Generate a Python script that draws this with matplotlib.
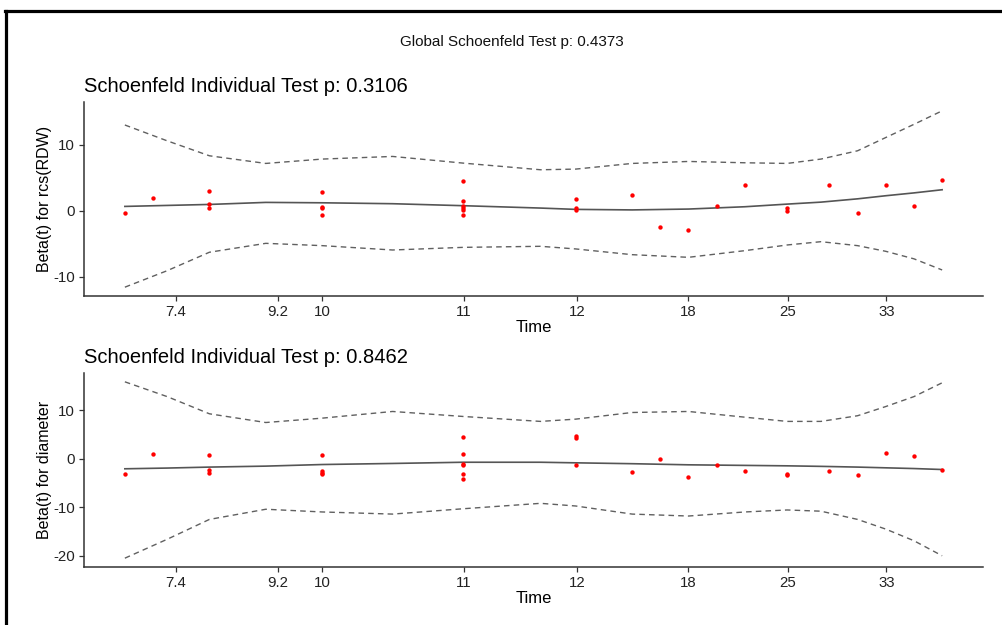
import matplotlib
matplotlib.use("Agg")
import matplotlib.pyplot as plt
from matplotlib.lines import Line2D

plt.rcParams['font.family'] = ['Liberation Sans', 'DejaVu Sans']
plt.rcParams['axes.unicode_minus'] = False

# ---- data (x in transformed-time units) ----
tick_pos = [1.82, 5.43, 7.0, 12.03, 16.05, 19.99, 23.52, 27.02]
tick_labels = ['7.4', '9.2', '10', '11', '12', '18', '25', '33']

pts_x = [0, 1, 3, 3, 3, 7, 7, 7, 7, 12, 12, 12, 12, 12, 12, 16, 16, 16,
         18, 19, 20, 21, 22, 23.5, 23.5, 25, 26, 27, 28, 29]
rdw_resid = [-0.35, 1.87, 3.03, 1.01, 0.35, 2.78, 0.5, 0.35, -0.6,
             4.44, 1.41, 0.76, 0.4, 0.1, -0.6, 1.77, 0.45, 0.15,
             2.42, -2.53, -2.93, 0.66, 3.89, 0.4, -0.05, 3.89, -0.35, 3.89, 0.71, 4.6]
diam_resid = [-3.08, 1.09, 0.75, -2.33, -3.02, 0.75, -2.6, -2.88, -3.22,
              4.44, 0.95, -1.05, -1.2, -3.22, -4.1, 4.64, 4.23, -1.31,
              -2.75, 0.06, -3.77, -1.17, -2.54, -3.22, -3.3, -2.54, -3.43, 1.16, 0.61, -2.4]

fit_x = [0, 1.5, 3, 5, 7, 9.5, 12, 14.75, 16, 18, 20, 22, 23.5, 24.7, 26, 27, 28, 29]
rdw_fit = [0.65, 0.8, 0.95, 1.26, 1.2, 1.06, 0.76, 0.4, 0.2, 0.12, 0.25, 0.6, 1.0, 1.3, 1.8, 2.27, 2.7, 3.18]
rdw_upper = [13.0, 10.6, 8.33, 7.17, 7.83, 8.23, 7.22, 6.21, 6.31, 7.17, 7.47, 7.27, 7.17, 7.83, 9.09, 11.1, 13.1, 15.15]
rdw_lower = [-11.6, -9.1, -6.3, -4.95, -5.3, -5.96, -5.56, -5.4, -5.8, -6.67, -7.07, -6.06, -5.2, -4.7, -5.3, -6.16, -7.3, -8.99]
diam_fit = [-2.05, -1.9, -1.7, -1.5, -1.17, -0.95, -0.7, -0.7, -0.82, -1.0, -1.23, -1.35, -1.44, -1.55, -1.7, -1.85, -2.0, -2.2]
diam_upper = [15.9, 12.85, 9.3, 7.5, 8.4, 9.78, 8.75, 7.73, 8.2, 9.57, 9.78, 8.6, 7.73, 7.73, 8.9, 10.8, 12.85, 15.7]
diam_lower = [-20.5, -16.6, -12.5, -10.4, -10.96, -11.4, -10.3, -9.18, -9.73, -11.4, -11.8, -10.96, -10.55, -10.8, -12.5, -14.5, -16.9, -20.0]

panels = [
    dict(title='Schoenfeld Individual Test p: 0.3106', ylabel='Beta(t) for rcs(RDW)',
         resid=rdw_resid, fit=rdw_fit, up=rdw_upper, lo=rdw_lower,
         yticks=[-10, 0, 10], rect=[84, 102, 983, 296]),
    dict(title='Schoenfeld Individual Test p: 0.8462', ylabel='Beta(t) for diameter',
         resid=diam_resid, fit=diam_fit, up=diam_upper, lo=diam_lower,
         yticks=[-20, -10, 0, 10], rect=[84, 373, 983, 567]),
]

W, H = 1003, 625
fig = plt.figure(figsize=(W / 100, H / 100), dpi=100)

axis_col = '#333333'
for p in panels:
    l, t, r, b = p['rect']
    ax = fig.add_axes([l / W, 1 - b / H, (r - l) / W, (b - t) / H])
    ax.plot(fit_x, p['up'], color='#606060', lw=1.0, ls=(0, (4, 3)))
    ax.plot(fit_x, p['lo'], color='#606060', lw=1.0, ls=(0, (4, 3)))
    ax.plot(fit_x, p['fit'], color='#555555', lw=1.2)
    ax.scatter(pts_x, p['resid'], s=10, color='#ff0000', zorder=3, linewidths=0)
    allv = p['up'] + p['lo'] + p['resid']
    lo_v, hi_v = min(allv), max(allv)
    pad = 0.05 * (hi_v - lo_v)
    ax.set_ylim(lo_v - pad, hi_v + pad)
    ax.set_xlim(-0.05 * 29, 29 * 1.05)
    ax.set_xticks(tick_pos)
    ax.set_xticklabels(tick_labels)
    ax.set_yticks(p['yticks'])
    for s in ['top', 'right']:
        ax.spines[s].set_visible(False)
    for s in ['left', 'bottom']:
        ax.spines[s].set_color(axis_col)
        ax.spines[s].set_linewidth(1.1)
    ax.tick_params(axis='both', colors=axis_col, length=3.5, width=0.9,
                   labelsize=10.8, labelcolor='#222222', pad=3)
    ax.set_xlabel('Time', fontsize=12, color='black', labelpad=1)
    ax.set_ylabel(p['ylabel'], fontsize=11.5, color='black', labelpad=1)
    ax.set_title(p['title'], loc='left', fontsize=14.5, color='black', pad=7)

fig.text(512 / W, 1 - 42 / H, 'Global Schoenfeld Test p: 0.4373', ha='center', va='center',
         fontsize=11, color='#111111')

# outer frame (left and top edges)
fig.add_artist(Line2D([6.5 / W, 6.5 / W], [0, 1 - 11 / H], color='black', lw=2.3,
                      transform=fig.transFigure))
fig.add_artist(Line2D([5.5 / W, 1000 / W], [1 - 11 / H, 1 - 11 / H], color='black', lw=2.3,
                      transform=fig.transFigure))

fig.savefig('out.png', dpi=100)
